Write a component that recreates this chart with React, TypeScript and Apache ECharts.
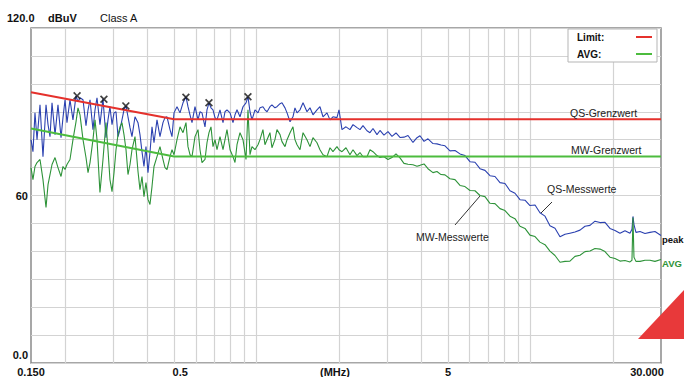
import React, { useEffect, useRef } from "react";
import * as echarts from "echarts";

// Frequency points (MHz) of the sweep
const freqMHz = [
  0.150, 0.1525, 0.1551, 0.1578, 0.1618, 0.1659, 0.1702, 0.1731, 0.1760, 0.1790,
  0.1836, 0.1882, 0.1931, 0.1963, 0.1997, 0.2030, 0.2082, 0.2135, 0.2190, 0.2227,
  0.2265, 0.2323, 0.2382, 0.2423, 0.2464, 0.2526, 0.2570, 0.2613, 0.2679, 0.2748,
  0.2818, 0.2866, 0.2914, 0.2965, 0.3015, 0.3066, 0.3118, 0.3171, 0.3224, 0.3279,
  0.3335, 0.3391, 0.3449, 0.3507, 0.3597, 0.3689, 0.3751, 0.3815, 0.3879, 0.3945,
  0.4012, 0.4080, 0.4150, 0.4220, 0.4328, 0.4438, 0.4551, 0.4629, 0.4708, 0.4828,
  0.4910, 0.4994, 0.5121, 0.5252, 0.5386, 0.5523, 0.5617, 0.5712, 0.5810, 0.5958,
  0.6110, 0.6214, 0.6319, 0.6480, 0.6590, 0.6702, 0.6815, 0.6931, 0.7049, 0.7169,
  0.7351, 0.7540, 0.7667, 0.7797, 0.8000, 0.8201, 0.8340, 0.8482, 0.8698, 0.8920,
  0.9149, 0.9303, 0.9461, 0.9621, 0.9867, 1.012, 1.029, 1.055, 1.073, 1.092,
  1.119, 1.138, 1.167, 1.187, 1.218, 1.238, 1.270, 1.292, 1.325, 1.358,
  1.381, 1.405, 1.441, 1.478, 1.528, 1.567, 1.607, 1.662, 1.704, 1.748,
  1.808, 1.854, 1.901, 1.966, 2.000, 2.051, 2.121, 2.193, 2.250, 2.327,
  2.386, 2.447, 2.531, 2.595, 2.662, 2.753, 2.823, 2.919, 3.020, 3.123,
  3.230, 3.340, 3.454, 3.573, 3.726, 3.854, 3.952, 4.088, 4.227, 4.408,
  4.559, 4.716, 4.877, 5.086, 5.305, 5.533, 5.770, 6.018, 6.276, 6.546,
  6.827, 7.120, 7.426, 7.745, 8.078, 8.425, 8.786, 9.164, 9.557, 9.967,
  10.40, 10.84, 11.31, 11.79, 12.30, 12.83, 13.38, 13.95, 14.55, 15.18,
  15.83, 16.51, 17.22, 17.96, 18.73, 19.53, 20.37, 21.25, 22.16, 23.11,
  23.50, 23.70, 23.90, 24.30, 25.14, 26.22, 27.34, 28.52, 30.00,
];

// QS (peak) measured values, dBuV
const peakDbuv = [
  80.0, 75.7, 89.6, 80.0, 92.5, 73.9, 92.5, 85.4, 81.1, 93.2,
  81.8, 92.5, 80.7, 87.9, 94.3, 86.1, 94.3, 87.1, 95.7, 93.6,
  95.0, 94.3, 85.0, 90.7, 94.3, 83.6, 90.7, 95.0, 85.4, 94.6,
  80.7, 87.1, 91.8, 85.4, 89.6, 90.0, 81.1, 83.6, 87.1, 90.7,
  92.1, 88.2, 84.3, 81.1, 88.2, 86.1, 81.8, 75.7, 70.4, 77.5,
  68.2, 75.4, 84.6, 78.9, 87.1, 81.1, 86.1, 87.9, 88.2, 83.6,
  81.1, 89.6, 91.8, 89.6, 93.2, 95.4, 91.8, 88.9, 86.1, 91.8,
  87.1, 90.0, 89.6, 84.6, 90.7, 93.2, 91.4, 90.7, 87.9, 87.1,
  90.7, 86.1, 90.0, 90.7, 89.6, 86.1, 88.9, 90.7, 88.2, 91.8,
  93.2, 95.4, 90.0, 87.1, 90.7, 89.6, 91.4, 91.8, 90.7, 90.0,
  91.8, 92.5, 91.4, 91.8, 92.9, 93.2, 91.4, 89.6, 86.4, 88.2,
  91.4, 89.6, 90.7, 93.2, 90.0, 91.4, 88.9, 90.7, 91.8, 88.2,
  89.6, 87.1, 88.2, 87.9, 90.7, 83.6, 84.6, 83.6, 85.4, 84.3,
  83.6, 85.0, 83.2, 82.5, 84.0, 81.8, 83.3, 81.6, 82.9, 81.2,
  82.4, 80.8, 80.9, 81.5, 79.0, 80.7, 81.4, 79.4, 80.3, 78.6,
  78.5, 78.1, 77.8, 76.0, 76.1, 74.9, 74.3, 72.1, 71.9, 69.6,
  69.0, 67.1, 66.8, 64.6, 64.3, 61.7, 60.8, 58.5, 58.3, 56.4,
  56.6, 53.8, 52.6, 49.2, 48.3, 45.2, 46.1, 46.5, 46.9, 47.6,
  49.0, 49.3, 50.8, 50.3, 50.4, 48.2, 47.5, 46.5, 47.4, 46.5,
  47.9, 52.5, 49.6, 46.8, 47.1, 46.4, 46.8, 47.1, 45.7,
];

// MW (average) measured values, dBuV
const avgDbuv = [
  70.0, 65.7, 70.4, 71.8, 72.9, 65.7, 55.7, 63.9, 67.5, 71.1,
  73.6, 70.0, 66.8, 70.4, 69.3, 71.1, 72.9, 80.0, 86.4, 91.4,
  88.9, 80.0, 73.6, 68.2, 71.8, 80.0, 87.1, 80.0, 61.1, 72.9,
  86.1, 76.4, 65.7, 61.4, 68.2, 76.4, 81.8, 84.6, 86.1, 81.8,
  76.4, 67.5, 71.1, 76.4, 81.1, 68.6, 62.1, 66.8, 59.6, 64.6,
  58.6, 56.8, 63.2, 70.4, 73.9, 77.5, 72.9, 70.0, 69.3, 73.9,
  76.4, 74.6, 80.0, 84.6, 82.5, 86.1, 77.5, 74.6, 73.9, 81.1,
  83.6, 76.4, 71.8, 72.9, 78.9, 82.5, 84.6, 77.5, 80.0, 76.4,
  81.1, 76.4, 80.0, 83.6, 76.4, 73.9, 71.8, 78.2, 82.5, 80.0,
  72.9, 90.7, 74.6, 77.5, 76.4, 78.2, 80.0, 83.6, 78.2, 80.0,
  82.5, 77.1, 80.0, 83.6, 81.8, 79.3, 77.5, 80.0, 82.5, 84.6,
  80.0, 78.2, 76.4, 82.5, 80.0, 77.5, 80.7, 78.9, 76.4, 74.6,
  73.9, 77.1, 75.7, 77.5, 76.4, 75.7, 77.1, 74.6, 76.4, 74.3,
  75.4, 73.9, 73.9, 76.4, 75.7, 74.3, 73.6, 73.9, 72.9, 73.6,
  74.9, 73.5, 71.5, 71.2, 71.0, 70.5, 70.8, 71.3, 69.6, 68.2,
  68.6, 67.5, 67.4, 66.0, 65.7, 63.6, 63.2, 61.8, 61.7, 60.0,
  59.6, 57.2, 57.1, 55.3, 54.6, 52.6, 51.7, 49.0, 48.2, 45.8,
  45.3, 43.3, 42.4, 40.1, 38.5, 36.1, 36.4, 36.5, 38.2, 38.6,
  39.9, 40.1, 41.0, 40.8, 39.9, 37.9, 37.4, 36.5, 36.7, 36.2,
  36.8, 52.1, 37.9, 36.4, 36.4, 36.8, 36.8, 36.4, 37.1,
];

// Limit lines
const limitFreq = [0.15, 0.5, 30];
const qsLimit = [97.0, 87.3, 87.3];
const mwLimit = [84.0, 74.0, 74.0];

// Peak markers (x)
const markerFreq = [0.221, 0.277, 0.333, 0.552, 0.670, 0.930];
const markerDbuv = [95.7, 94.5, 92.1, 95.2, 93.2, 95.4];

// Vertical grid lines (MHz)
const gridFreq = [0.2, 0.3, 0.4, 0.5, 0.6, 0.7, 0.8, 0.9, 1, 2, 3, 4, 5, 6, 7, 8, 9, 10, 20];

// Tick labels
const xTickFreq = [0.15, 0.5, 2, 5, 30];
const xTickText = ["0.150", "0.5", "(MHz)", "5", "30.000"];
const xTickStyle = ["c", "r6", "l4", "c", "l14"];
const yTickValue = [0, 60];
const yTickText = ["0.0", "60"];

const FONT = "'Liberation Sans', Arial, Helvetica, sans-serif";
const BLUE = "#2b41b0";
const GREEN = "#2e9339";
const RED = "#e5312c";
const LGREEN = "#4cbc3e";

export default function App() {
  const ref = useRef<HTMLDivElement>(null);

  useEffect(() => {
    const chart = echarts.init(ref.current as HTMLDivElement, null, { renderer: "svg" });
    const pairs = (xs: number[], ys: number[]) => xs.map((x, i) => [x, ys[i]]);
    const lbl = { fontFamily: FONT, fontSize: 11, fontWeight: "bold", color: "#111" };

    chart.setOption({
      animation: false,
      grid: {
        left: 31,
        top: 28,
        width: 630,
        height: 336,
        show: true,
        borderColor: "#8a8a8a",
        borderWidth: 1.5,
        backgroundColor: "transparent",
      },
      xAxis: {
        type: "log",
        logBase: 10,
        min: 0.15,
        max: 30,
        axisLine: { show: false },
        axisTick: { show: false },
        splitLine: { show: false },
        axisLabel: {
          customValues: xTickFreq,
          showMinLabel: true,
          showMaxLabel: true,
          margin: 3,
          ...lbl,
          formatter: (v: number) => {
            let idx = -1;
            xTickFreq.forEach((f, i) => {
              if (Math.abs(Math.log10(v) - Math.log10(f)) < 0.01) idx = i;
            });
            if (idx < 0) return "";
            return `{${xTickStyle[idx]}|${xTickText[idx]}}`;
          },
          rich: {
            c: { ...lbl },
            r6: { ...lbl, padding: [0, 0, 0, 12] },
            l4: { ...lbl, padding: [0, 8, 0, 0] },
            l14: { ...lbl, padding: [0, 28, 0, 0] },
          },
        },
      },
      yAxis: {
        type: "value",
        min: 0,
        max: 120,
        interval: 10,
        axisLine: { show: false },
        axisTick: { show: false },
        splitLine: { show: true, lineStyle: { color: "#d3d3d3", width: 1.2 } },
        axisLabel: {
          margin: 3,
          ...lbl,
          formatter: (v: number) => {
            const i = yTickValue.indexOf(v);
            if (i < 0) return "";
            return v === 0 ? `{z|${yTickText[i]}}` : `{n|${yTickText[i]}}`;
          },
          rich: {
            n: { ...lbl },
            z: { ...lbl, padding: [0, 0, 16, 0] },
          },
        },
      },
      series: [
        {
          type: "line",
          data: [],
          z: 1,
          silent: true,
          markLine: {
            silent: true,
            z: 1,
            symbol: ["none", "none"],
            label: { show: false },
            lineStyle: { color: "#d3d3d3", width: 1.2, type: "solid" },
            emphasis: { disabled: true },
            data: gridFreq.map((f) => ({ xAxis: f })),
          },
        },
        {
          name: "QS-Messwerte",
          type: "line",
          data: pairs(freqMHz, peakDbuv),
          showSymbol: false,
          symbol: "none",
          z: 3,
          lineStyle: { color: BLUE, width: 1.1 },
          itemStyle: { color: BLUE },
          silent: true,
        },
        {
          name: "MW-Messwerte",
          type: "line",
          data: pairs(freqMHz, avgDbuv),
          showSymbol: false,
          symbol: "none",
          z: 3,
          lineStyle: { color: GREEN, width: 1.1 },
          itemStyle: { color: GREEN },
          silent: true,
        },
        {
          name: "QS-Grenzwert",
          type: "line",
          data: pairs(limitFreq, qsLimit),
          showSymbol: false,
          symbol: "none",
          z: 4,
          lineStyle: { color: RED, width: 2 },
          itemStyle: { color: RED },
          silent: true,
        },
        {
          name: "MW-Grenzwert",
          type: "line",
          data: pairs(limitFreq, mwLimit),
          showSymbol: false,
          symbol: "none",
          z: 4,
          lineStyle: { color: LGREEN, width: 2 },
          itemStyle: { color: LGREEN },
          silent: true,
        },
        {
          name: "Peaks",
          type: "scatter",
          data: pairs(markerFreq, markerDbuv),
          symbol: "path://M0,1.5L1.5,0L5,3.5L8.5,0L10,1.5L6.5,5L10,8.5L8.5,10L5,6.5L1.5,10L0,8.5L3.5,5Z",
          symbolSize: 8,
          z: 6,
          itemStyle: { color: "#111" },
          silent: true,
        },
      ],
      graphic: [
        { type: "text", x: 7, y: 18, z: 20, style: { text: "120.0", font: `bold 11px ${FONT}`, fill: "#111", verticalAlign: "middle" } },
        { type: "text", x: 48, y: 18, z: 20, style: { text: "dBuV", font: `bold 11px ${FONT}`, fill: "#111", verticalAlign: "middle" } },
        { type: "text", x: 100, y: 18, z: 20, style: { text: "Class A", font: `11px ${FONT}`, fill: "#111", verticalAlign: "middle" } },

        { type: "rect", z: 20, shape: { x: 568, y: 29, width: 89, height: 33 }, style: { fill: "#ffffff", stroke: "#b5b5b5", lineWidth: 1 } },
        { type: "text", x: 577, y: 37, z: 21, style: { text: "Limit:", font: `bold 10px ${FONT}`, fill: "#111", verticalAlign: "middle" } },
        { type: "text", x: 577, y: 54, z: 21, style: { text: "AVG:", font: `bold 10px ${FONT}`, fill: "#111", verticalAlign: "middle" } },
        { type: "line", z: 21, shape: { x1: 636, y1: 37, x2: 652, y2: 37 }, style: { stroke: RED, lineWidth: 2 } },
        { type: "line", z: 21, shape: { x1: 636, y1: 54, x2: 652, y2: 54 }, style: { stroke: LGREEN, lineWidth: 2 } },

        { type: "text", x: 570, y: 113, z: 20, style: { text: "QS-Grenzwert", font: `10.5px ${FONT}`, fill: "#222", verticalAlign: "middle" } },
        { type: "text", x: 571, y: 150, z: 20, style: { text: "MW-Grenzwert", font: `10.5px ${FONT}`, fill: "#222", verticalAlign: "middle" } },
        { type: "text", x: 547, y: 189, z: 20, style: { text: "QS-Messwerte", font: `10.5px ${FONT}`, fill: "#222", verticalAlign: "middle" } },
        { type: "text", x: 416, y: 237, z: 20, style: { text: "MW-Messwerte", font: `10.5px ${FONT}`, fill: "#222", verticalAlign: "middle" } },
        { type: "line", z: 20, shape: { x1: 552, y1: 202, x2: 541, y2: 213 }, style: { stroke: "#333", lineWidth: 1 } },
        { type: "line", z: 20, shape: { x1: 455, y1: 225, x2: 480, y2: 196 }, style: { stroke: "#333", lineWidth: 1 } },

        { type: "text", x: 662, y: 239, z: 20, style: { text: "peak", font: `bold 9.5px ${FONT}`, fill: "#111", verticalAlign: "middle" } },
        { type: "text", x: 662, y: 263, z: 20, style: { text: "AVG", font: `bold 9.5px ${FONT}`, fill: GREEN, verticalAlign: "middle" } },

        { type: "polygon", z: 50, shape: { points: [[638, 339], [684, 290], [684, 339]] }, style: { fill: "#e8393a" } },
      ],
    });

    return () => chart.dispose();
  }, []);

  return (
    <div
      ref={ref}
      style={{ position: "fixed", left: 0, top: 0, width: 684, height: 377, background: "#ffffff" }}
    />
  );
}
